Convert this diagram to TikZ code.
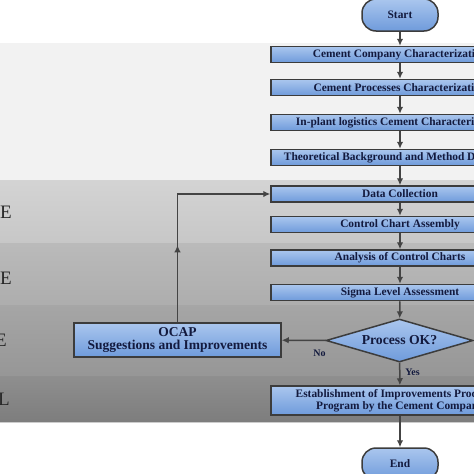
\documentclass[tikz,border=0pt]{standalone}
\usepackage{fontspec}
\setmainfont{Liberation Serif}
\usetikzlibrary{positioning,shapes.geometric,arrows,arrows.meta}
\definecolor{boxtop}{HTML}{AAC6EE}
\definecolor{boxbot}{HTML}{6F9BDB}
\definecolor{boxline}{HTML}{3C3C3C}
\definecolor{boxtext}{HTML}{131A3E}
\definecolor{arrowgray}{HTML}{444444}

\begin{document}
\begin{tikzpicture}[x=1pt,y=-1pt,
  mybox/.style = {draw=boxline, line width=1.5pt, top color=boxtop, bottom color=boxbot,
                  minimum width=258pt, minimum height=16pt, inner sep=1pt, text=boxtext,
                  font=\bfseries\fontsize{11.4}{12.5}\selectfont, align=center},
  myterm/.style = {mybox, rounded corners=14pt, minimum width=76pt, minimum height=32pt},
  mydec/.style = {diamond, draw=boxline, line width=1.5pt, top color=boxtop, bottom color=boxbot,
                  aspect=3.4, inner sep=0pt, minimum width=147pt, minimum height=43pt,
                  text=boxtext, font=\bfseries\fontsize{13.7}{15}\selectfont},
  myarrow/.style = {-{Latex[length=7pt,width=6.5pt]}, draw=arrowgray, line width=1.5pt},
  mylabel/.style = {text=boxtext, font=\bfseries\fontsize{10}{11}\selectfont, inner sep=0pt},
  phase/.style = {font=\fontsize{19}{20}\selectfont, text=black!85, inner sep=0pt}]
\useasboundingbox (0,0) rectangle (474,474);
\clip (0,0) rectangle (474,474);
% phase bands
\fill[gray!10] (0,43) rectangle (474,180);
\shade[top color=black!17, bottom color=black!22] (0,180) rectangle (474,243);
\shade[top color=black!27, bottom color=black!32] (0,243) rectangle (474,305);
\shade[top color=black!35, bottom color=black!41] (0,305) rectangle (474,376);
\shade[top color=black!44, bottom color=black!51] (0,376) rectangle (474,422);
\draw[white!80!black, line width=0.8pt] (0,422.5) -- (474,422.5);
\node[phase, anchor=east] (pm) at (12,212) {E};
\node[phase, anchor=east] (pa) at (12,278) {E};
\node[phase, anchor=east] (pi) at (7,340) {E};
\node[phase, anchor=east] (pc) at (10,399) {L};
% flow
\node[myterm] (start) at (400,15) {Start};
\node[mybox] (comp) at (400,54.5) {Cement Company Characterization};
\node[mybox] (proc) at (400,87.5) {Cement Processes Characterization};
\node[mybox] (logi) at (400,122.5) {In-plant logistics Cement Characterization};
\node[mybox] (theo) at (400,157.5) {Theoretical Background and Method Definition};
\node[mybox] (data) at (400,194) {Data Collection};
\node[mybox] (chart) at (400,224.5) {Control Chart Assembly};
\node[mybox] (anal) at (400,258) {Analysis of Control Charts};
\node[mybox] (sigma) at (400,292.5) {Sigma Level Assessment};
\node[mydec] (ok) at (399.5,340.5) {Process OK?};
\node[mybox, minimum width=207pt, minimum height=34pt, font=\bfseries\fontsize{13.5}{13}\selectfont] (ocap) at (177.5,340) {OCAP\\Suggestions and Improvements};
\node[mybox, minimum height=29pt, font=\bfseries\fontsize{11.4}{12.5}\selectfont] (estab) at (400,400.5) {Establishment of Improvements Procedure\\Program by the Cement Company};
\node[myterm] (end) at (400,464) {End};
\foreach \a/\b in {start/comp, comp/proc, proc/logi, logi/theo, theo/data, data/chart, chart/anal, anal/sigma, sigma/ok, ok/estab, estab/end}
    \draw[myarrow] (\a) -- (\b);
\draw[myarrow] (ok) -- (ocap);
\draw[myarrow] (ocap.north) |- (data.west);
\draw[myarrow] (ocap.north) -- ++(0,-77);
\node[mylabel] (no) at (319.5,353) {No};
\node[mylabel] (yes) at (412.5,372) {Yes};
\end{tikzpicture}
\end{document}
